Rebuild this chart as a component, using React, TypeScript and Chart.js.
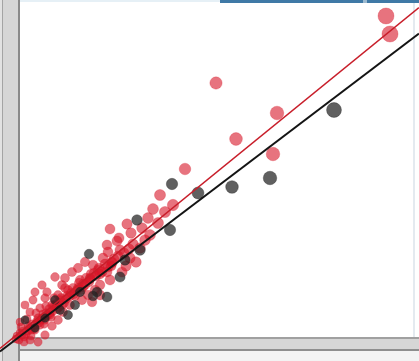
import React, { useEffect, useRef } from "react";
import { Chart, registerables } from "chart.js";

Chart.register(...registerables);

// Red series (x, y)
const redX = [73.2, 74.0, 39.2, 51.4, 43.2, 50.6, 33.0, 30.6, 26.6, 27.6, 21.4, 18.0, 22.2, 19.8,
  17.4, 17.6, 20.0, 19.4, 20.4, 18.0, 17.4, 16.0, 14.6, 22.0, 24.0, 25.0, 23.2, 26.0, 18.4, 21.2, 16.6, 15.6,
  10.4, 7.0, 8.4, 12.6, 5.4, 2.6, 14.0, 12.0, 9.6, 11.0, 8.0, 6.4, 4.0, 13.6, 15.0, 9.0, 11.6, 13.0,
  7.6, 5.0, 10.0, 12.4, 14.4, 16.0, 8.6, 6.0, 3.6, 2.0, 1.0, 4.4, 3.0,
  -1.4, -2.6, 0.0, 1.6, -1.0, -3.0, -2.0, 0.4, 2.0, -4.0, -3.4, -1.6, -0.4, 1.0, 3.0, 4.0, 5.0, -2.4, -3.6, -0.8, 1.6, 3.6, 5.0, 6.4, 7.6,
  28.0, 24.4, 29.0, 25.6,
  -3.8, -3.2, -2.8, -2.2, -1.8, -1.2, -0.6, -0.2, 0.6, 1.2, 1.8, 2.4, 2.8, 3.4, 4.2, 4.6, 5.4, 5.8, 6.6, 7.2,
  7.8, 8.2, 8.8, 9.4, 10.2, 10.6, 11.4, 11.8, 12.6, 13.2, 13.8, 14.2, 15.2, 15.8, 16.4, 17.0, 18.2, 18.8, 19.6, 20.8,
  21.8, 22.6, 0.2, 1.4, 3.2, 5.2, 6.8, 9.0, 2.2, 4.8, 6.2, -2.6, -1.4, 0.8,
  -3.6, -3.0, -2.4, -1.6, -0.8, 0.0, 0.8, 1.6, 2.2, 3.0, 3.8, 4.4, 5.2, 6.0, 6.8, 7.4, 8.4, 9.2, 10.0, 10.8,
  11.6, 12.2, 13.0, 14.0, 14.8, 16.0, 17.6, 18.4, -3.0, -1.0,
  -3.0, -1.6, -2.4];
const redY = [64.2, 60.6, 50.8, 44.8, 39.6, 36.6, 33.6, 26.4, 25.6, 22.8, 22.6, 21.6, 20.8, 19.8,
  18.4, 17.0, 17.4, 19.2, 13.0, 11.4, 13.0, 10.4, 14.4, 15.8, 17.8, 19.4, 15.0, 20.4, 15.0, 14.2, 15.8, 13.4,
  13.0, 12.0, 10.4, 10.0, 9.0, 7.4, 11.8, 11.4, 9.4, 8.2, 7.4, 6.4, 5.8, 8.4, 9.4, 11.8, 13.8, 15.0,
  8.4, 7.8, 6.4, 7.4, 7.0, 8.4, 5.0, 4.4, 3.8, 5.0, 6.4, 10.4, 9.0,
  3.8, 2.0, 3.0, 2.2, 1.0, -0.2, -1.0, 0.4, -0.6, -1.6, -2.6, -3.0, -1.8, -2.2, 1.4, 2.4, 3.4, 0.4, -4.2, -4.2, -3.6, -1.0, 0.4, 2.2, 3.4,
  28.4, 21.8, 25.0, 23.8,
  -2.4, -1.4, -2.8, -0.8, -1.6, -0.2, 0.2, -0.6, 1.2, 0.6, 1.8, 2.6, 1.6, 3.2, 3.4, 4.6, 4.2, 5.6, 5.2, 6.6,
  6.0, 7.8, 6.8, 8.2, 8.8, 9.8, 9.4, 10.8, 10.6, 11.8, 11.0, 12.6, 12.2, 13.8, 13.0, 14.6, 14.2, 15.6, 16.2, 16.8,
  17.6, 18.6, 2.0, 3.6, 4.8, 6.2, 7.8, 9.8, 0.2, 2.6, 4.0, -3.4, -2.4, -1.0,
  -3.0, -2.0, -1.8, -0.8, -0.4, 0.8, 0.0, 1.2, 1.4, 2.4, 2.8, 3.8, 4.8, 4.8, 6.2, 5.6, 6.4, 7.6, 8.2, 8.6,
  9.8, 9.4, 10.4, 11.6, 12.8, 12.6, 14.0, 14.8, -3.8, -3.0,
  3.0, 5.4, 4.4];

// Dark series (x, y)
const darkX = [62.8, 50.0, 42.4, 30.4, 35.6, 23.4, 30.0, 13.8, 21.0, 20.0, 15.4, 17.4, 14.6, 1.0, 8.0, 11.0, 5.0, 3.0, -1.0, 7.0, 12.0, 9.6, 24.0];
const darkY = [45.4, 31.8, 30.0, 30.6, 28.8, 23.4, 21.4, 16.6, 15.4, 12.0, 9.0, 8.0, 8.2, 3.4, 5.4, 6.4, 3.8, 1.8, -0.6, 7.4, 9.0, 4.4, 17.4];

// Fit lines (endpoints)
const redFitX = [-4, 79.8];
const redFitY = [-2.3, 65.9];
const darkFitX = [-4, 79.8];
const darkFitY = [-2.9, 60.7];

const toPts = (xs: number[], ys: number[]) => xs.map((x, i) => ({ x, y: ys[i] }));

const framePlugin = {
  id: "frame",
  beforeDraw(chart: any) {
    const ctx = chart.ctx;
    const W = chart.width;
    const H = chart.height;
    ctx.save();
    ctx.fillStyle = "#ffffff";
    ctx.fillRect(0, 0, W, H);
    ctx.fillStyle = "#e6f0f6";
    ctx.fillRect(0, 0, W, 2);
    ctx.fillStyle = "#3f79a6";
    ctx.fillRect(220, 0, W - 220, 3);
    ctx.fillStyle = "#9cbad0";
    ctx.fillRect(363, 0, 4, 3);
    ctx.fillStyle = "#e4eaf0";
    ctx.fillRect(413, 3, 2, 334);
    ctx.fillStyle = "#f3f3f3";
    ctx.fillRect(20, 351, W - 20, H - 351);
    ctx.fillStyle = "#a0a0a0";
    ctx.fillRect(20, 337, W - 20, 2);
    ctx.fillStyle = "#d6d6d6";
    ctx.fillRect(20, 339, W - 20, 10);
    ctx.fillStyle = "#8e8e8e";
    ctx.fillRect(20, 349, W - 20, 2);
    ctx.fillStyle = "#d6d6d6";
    ctx.fillRect(0, 0, 20, H);
    ctx.fillStyle = "#e2e2e2";
    ctx.fillRect(0, 0, 2, H);
    ctx.fillStyle = "#a4a4a4";
    ctx.fillRect(2, 0, 1, H);
    ctx.fillStyle = "#8a8a8a";
    ctx.fillRect(18, 0, 2, H);
    ctx.restore();
  },
};

const radius = (c: any) => {
  const p = c.raw;
  const x = p && typeof p.x === "number" ? p.x : 0;
  return 4 + 0.055 * Math.max(0, x);
};

export default function App() {
  const ref = useRef<HTMLCanvasElement>(null);
  useEffect(() => {
    if (!ref.current) return;
    const chart = new Chart(ref.current, {
      type: "scatter",
      data: {
        datasets: [
          {
            data: toPts(darkFitX, darkFitY),
            showLine: true,
            borderColor: "#141414",
            borderWidth: 2,
            pointRadius: 0,
            clip: false,
          } as any,
          {
            data: toPts(redFitX, redFitY),
            showLine: true,
            borderColor: "#c81e2a",
            borderWidth: 1.6,
            pointRadius: 0,
            clip: false,
          } as any,
          {
            data: toPts(darkX, darkY),
            backgroundColor: "rgba(35,35,35,0.72)",
            borderColor: "rgba(35,35,35,0.35)",
            borderWidth: 1,
            pointRadius: radius,
            clip: false,
          } as any,
          {
            data: toPts(redX, redY),
            backgroundColor: "rgba(215,22,40,0.6)",
            borderColor: "rgba(215,22,40,0.25)",
            borderWidth: 1,
            pointRadius: radius,
            clip: false,
          } as any,
        ],
      },
      options: {
        animation: false,
        responsive: false,
        layout: { autoPadding: false, padding: { left: 20, top: 3, right: 4, bottom: 24 } },
        plugins: { legend: { display: false }, tooltip: { enabled: false } },
        scales: {
          x: { type: "linear", min: 0, max: 79, display: false },
          y: { type: "linear", min: 0, max: 66.8, display: false },
        },
      },
      plugins: [framePlugin],
    });
    return () => chart.destroy();
  }, []);
  return (
    <div style={{ position: "absolute", left: 0, top: 0, width: 419, height: 361 }}>
      <canvas ref={ref} width={419} height={361} />
    </div>
  );
}
